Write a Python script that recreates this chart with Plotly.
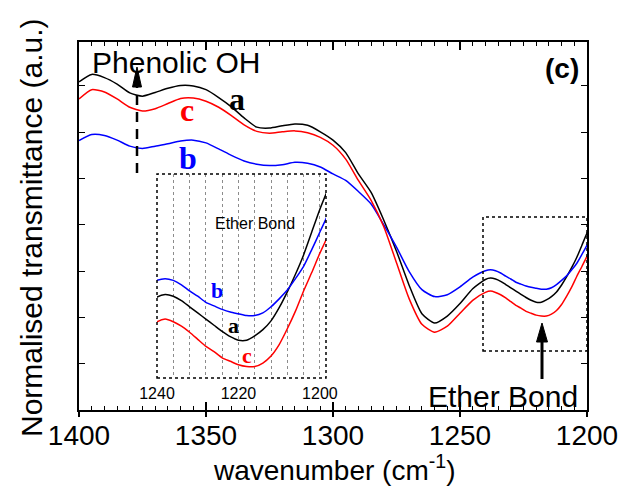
import plotly.graph_objects as go

# ---------------- data ----------------
wavenumber = [1400, 1395, 1390, 1385, 1380, 1375, 1370, 1365, 1360, 1355,
              1350, 1345, 1340, 1335, 1330, 1325, 1320, 1315, 1310, 1305,
              1300, 1295, 1290, 1285, 1280, 1275, 1270, 1265, 1260, 1255,
              1250, 1245, 1240, 1238, 1236, 1234, 1232, 1230, 1228, 1226,
              1224, 1222, 1220, 1218, 1216, 1214, 1212, 1210, 1208, 1206,
              1204, 1202, 1200, 1198]

trans_a = [7.09, 7.25, 7.18, 7.04, 6.85, 6.78, 6.86, 6.95, 7.01, 7.00,
           6.92, 6.75, 6.55, 6.31, 6.11, 6.09, 6.14, 6.18, 6.15, 6.01,
           5.83, 5.56, 5.10, 4.70, 4.10, 3.43, 2.69, 2.08, 1.88, 2.03,
           2.30, 2.62, 2.82, 2.85, 2.83, 2.78, 2.71, 2.64, 2.57, 2.50,
           2.43, 2.37, 2.33, 2.33, 2.38, 2.45, 2.55, 2.70, 2.88, 3.08,
           3.30, 3.56, 3.82, 4.05]

trans_b = [5.82, 5.95, 5.93, 5.83, 5.70, 5.65, 5.70, 5.75, 5.81, 5.83,
           5.77, 5.64, 5.50, 5.38, 5.31, 5.28, 5.30, 5.35, 5.33, 5.25,
           5.10, 4.96, 4.72, 4.45, 4.00, 3.52, 2.99, 2.60, 2.45, 2.49,
           2.66, 2.87, 3.01, 3.03, 3.01, 2.96, 2.89, 2.83, 2.76, 2.72,
           2.68, 2.65, 2.63, 2.61, 2.61, 2.64, 2.71, 2.80, 2.90, 3.03,
           3.17, 3.36, 3.56, 3.76]

trans_c = [6.72, 6.92, 6.87, 6.72, 6.54, 6.46, 6.51, 6.62, 6.73, 6.74,
           6.67, 6.54, 6.36, 6.16, 6.02, 5.98, 6.01, 6.03, 5.99, 5.89,
           5.72, 5.42, 4.96, 4.53, 3.96, 3.18, 2.40, 1.85, 1.68, 1.81,
           2.09, 2.37, 2.54, 2.57, 2.54, 2.49, 2.42, 2.34, 2.26, 2.20,
           2.13, 2.09, 2.05, 2.03, 2.03, 2.07, 2.15, 2.28, 2.46, 2.66,
           2.89, 3.10, 3.32, 3.52]

series_names = ["a", "b", "c"]
series_colors = ["#000000", "#0000ff", "#ff0000"]

main_range = [1400, 1200]
inset_range = [1240, 1198.5]
inset_yrange = [1.90, 4.22]

# ---------------- layout helpers (pixel -> paper) ----------------
W, H = 623, 486
L, R, T, B = 79, 587, 42, 410


def px(x):
    return (x - L) / (R - L)


def py(y):
    return (B - y) / (B - T)


ARIAL = "Liberation Sans, Arial, sans-serif"
TIMES = "Liberation Serif, Times New Roman, serif"

fig = go.Figure()

series = [trans_a, trans_b, trans_c]
for name, ys, col in zip(series_names, series, series_colors):
    fig.add_trace(go.Scatter(x=wavenumber, y=ys, mode="lines", name=name,
                             line=dict(color=col, width=1.5, shape="spline", smoothing=0.6),
                             xaxis="x", yaxis="y", showlegend=False, hoverinfo="skip"))
for name, ys, col in zip(series_names, series, series_colors):
    fig.add_trace(go.Scatter(x=wavenumber, y=ys, mode="lines", name=name + " inset",
                             line=dict(color=col, width=1.5, shape="spline", smoothing=0.6),
                             xaxis="x2", yaxis="y2", showlegend=False, hoverinfo="skip"))

fig.update_layout(
    width=W, height=H,
    margin=dict(l=L, r=W - R, t=T, b=H - B, autoexpand=False),
    paper_bgcolor="white", plot_bgcolor="white",
    xaxis=dict(range=main_range, domain=[0, 1], anchor="y", automargin=False,
               tick0=1200, dtick=50, ticks="inside", ticklen=8, tickwidth=1.5,
               tickcolor="black", showline=True, linewidth=1.5, linecolor="black",
               mirror="ticks", showgrid=False, zeroline=False,
               tickfont=dict(family=ARIAL, size=28, color="black"),
               ticklabelstandoff=0,
               minor=dict(dtick=5, ticks="inside", ticklen=4, tickwidth=1, tickcolor="black",
                          showgrid=False)),
    xaxis3=dict(range=main_range, overlaying="x", anchor="y", side="bottom", automargin=False,
                tick0=1200, dtick=50, ticks="outside", ticklen=6, tickwidth=1.5,
                tickcolor="black", showticklabels=False, showline=False,
                showgrid=False, zeroline=False),
    yaxis=dict(range=[0, 7.95], domain=[0, 1], anchor="x", tick0=0, dtick=1, automargin=False,
               ticks="inside", ticklen=6, tickwidth=1, tickcolor="black",
               showticklabels=False, showline=True, linewidth=1.5, linecolor="black",
               mirror="ticks", showgrid=False, zeroline=False),
    xaxis2=dict(range=inset_range, domain=[px(157), px(326)], anchor="y2", automargin=False,
                tick0=1200, dtick=20, ticks="", showline=False, zeroline=False,
                showgrid=True, griddash="dot", gridcolor="#8c8c8c", gridwidth=1,
                tickfont=dict(family=ARIAL, size=16, color="black"),
                ticklabelstandoff=4,
                minor=dict(tick0=1200, dtick=4, showgrid=True, griddash="dot",
                           gridcolor="#8c8c8c", gridwidth=1, ticks="")),
    yaxis2=dict(range=inset_yrange, domain=[py(378), py(174)], anchor="x2", automargin=False,
                showticklabels=False, ticks="", showline=False, showgrid=False,
                zeroline=False),
)

# invisible trace so the overlay axis is drawn
fig.add_trace(go.Scatter(x=[main_range[0]], y=[0], xaxis="x3", yaxis="y", mode="markers",
                         marker=dict(opacity=0), showlegend=False, hoverinfo="skip"))

shapes = []
# inset frame (dotted)
shapes.append(dict(type="rect", xref="x2 domain", yref="y2 domain", x0=0, x1=1, y0=0, y1=1,
                   line=dict(color="black", width=1.5, dash="dot")))
# zoom region box in main plot (dotted)
shapes.append(dict(type="rect", xref="paper", yref="paper", x0=px(483), x1=px(587),
                   y0=py(351), y1=py(217), line=dict(color="black", width=1.5, dash="dot")))
# Phenolic OH dashed arrow
shapes.append(dict(type="line", xref="paper", yref="paper", x0=px(137), x1=px(137),
                   y0=py(173), y1=py(84), line=dict(color="black", width=2.5, dash="10px,7px")))
shapes.append(dict(type="path", xref="paper", yref="paper",
                   path=f"M {px(137)} {py(67)} L {px(132.5)} {py(87)} L {px(141.5)} {py(87)} Z",
                   fillcolor="black", line=dict(color="black", width=1)))
# Ether bond arrow
shapes.append(dict(type="line", xref="paper", yref="paper", x0=px(542), x1=px(542),
                   y0=py(379), y1=py(338), line=dict(color="black", width=3)))
shapes.append(dict(type="path", xref="paper", yref="paper",
                   path=f"M {px(542)} {py(323)} L {px(536.5)} {py(342)} L {px(547.5)} {py(342)} Z",
                   fillcolor="black", line=dict(color="black", width=1)))
fig.update_layout(shapes=shapes)


def ann(text, x, y, size, family=ARIAL, color="black", angle=0):
    return dict(text=text, x=px(x), y=py(y), xref="paper", yref="paper",
                showarrow=False, xanchor="center", yanchor="middle", textangle=angle,
                font=dict(family=family, size=size, color=color))


annotations = [
    ann("Phenolic OH", 176, 62, 30),
    ann("<b>(c)</b>", 562, 68, 28),
    ann("<b>a</b>", 237, 99, 32, TIMES, "#000000"),
    ann("<b>c</b>", 187, 110, 32, TIMES, "#ff0000"),
    ann("<b>b</b>", 188, 158, 32, TIMES, "#0000ff"),
    ann("Ether Bond", 503, 396, 30),
    ann("Ether Bond", 255, 223, 16),
    ann("<b>b</b>", 217, 290, 22, TIMES, "#0000ff"),
    ann("<b>a</b>", 233, 325, 22, TIMES, "#000000"),
    ann("<b>c</b>", 247, 355, 22, TIMES, "#ff0000"),
    ann("wavenumber (cm<sup>-1</sup>)", 334, 468, 28),
    ann("Normalised transmittance (a.u.)", 31, 228, 30, angle=-90),
]
fig.update_layout(annotations=annotations)

fig.write_html("out.html", config={"displayModeBar": False},
               post_script="document.body.style.margin='0px';document.body.style.overflow='hidden';")
